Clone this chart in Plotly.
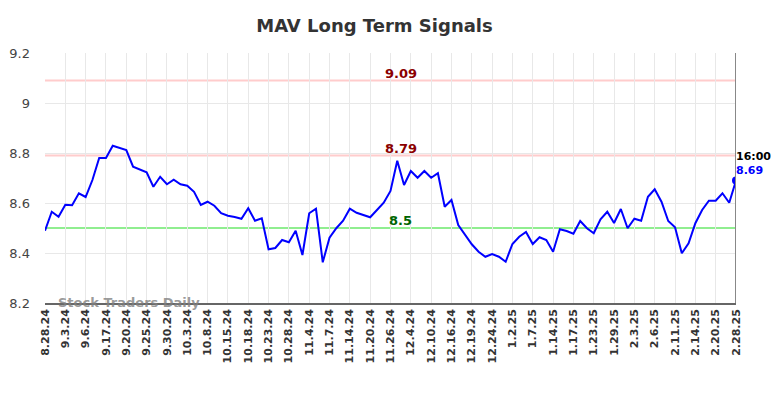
import plotly.graph_objects as go

values = [
    8.489, 8.565, 8.545, 8.593, 8.591, 8.639, 8.624, 8.692, 8.780, 8.780,
    8.829, 8.820, 8.812, 8.745, 8.735, 8.723, 8.665, 8.705, 8.675, 8.693,
    8.675, 8.669, 8.645, 8.592, 8.605, 8.589, 8.559, 8.549, 8.544, 8.537,
    8.579, 8.529, 8.539, 8.415, 8.420, 8.452, 8.443, 8.489, 8.392, 8.559,
    8.577, 8.363, 8.461, 8.499, 8.529, 8.577, 8.561, 8.551, 8.543, 8.572,
    8.601, 8.648, 8.769, 8.672, 8.728, 8.701, 8.728, 8.701, 8.719, 8.585,
    8.612, 8.512, 8.472, 8.435, 8.405, 8.385, 8.396, 8.385, 8.365, 8.436,
    8.465, 8.484, 8.436, 8.463, 8.452, 8.405, 8.495, 8.488, 8.477, 8.528,
    8.499, 8.479, 8.535, 8.565, 8.520, 8.576, 8.499, 8.537, 8.529, 8.625,
    8.655, 8.605, 8.528, 8.503, 8.399, 8.439, 8.519, 8.572, 8.609, 8.609,
    8.639, 8.601, 8.690,
]

tick_labels = [
    "8.28.24", "9.3.24", "9.6.24", "9.17.24", "9.20.24", "9.25.24", "9.30.24",
    "10.3.24", "10.8.24", "10.15.24", "10.18.24", "10.23.24", "10.28.24",
    "11.4.24", "11.7.24", "11.14.24", "11.20.24", "11.26.24", "12.4.24",
    "12.10.24", "12.16.24", "12.19.24", "12.24.24", "1.2.25", "1.7.25",
    "1.14.25", "1.17.25", "1.23.25", "1.29.25", "2.3.25", "2.6.25",
    "2.11.25", "2.14.25", "2.20.25", "2.28.25",
]
tick_step = 3

y_ticks = [8.2, 8.4, 8.6, 8.8, 9.0, 9.2]
y_tick_text = ["8.2", "8.4", "8.6", "8.8", "9", "9.2"]

signal_levels = [9.09, 8.79, 8.5]
signal_labels = ["9.09", "8.79", "8.5"]
signal_line_colors = ["#ffcccc", "#ffcccc", "#90ee90"]
signal_text_colors = ["#8b0000", "#8b0000", "#006400"]

last_time = "16:00"

x = list(range(len(values)))
tick_vals = [i * tick_step for i in range(len(tick_labels))]
tick_text_bold = ["<b>%s</b>" % t for t in tick_labels]
last_i = x[-1]

fig = go.Figure()

fig.add_trace(go.Scatter(
    x=x, y=values, mode="lines",
    line=dict(color="#0000ff", width=2),
    hoverinfo="skip", showlegend=False,
))
fig.add_trace(go.Scatter(
    x=[last_i], y=[values[-1]], mode="markers",
    marker=dict(color="#0000ff", size=8),
    hoverinfo="skip", showlegend=False,
))

for lvl, lab, lc, tc in zip(signal_levels, signal_labels, signal_line_colors, signal_text_colors):
    fig.add_shape(type="line", xref="paper", x0=0, x1=1, yref="y", y0=lvl, y1=lvl,
                  line=dict(color=lc, width=2), layer="below")
    fig.add_annotation(x=0.515, y=lvl, xref="paper", yref="y", text="<b>%s</b>" % lab,
                       showarrow=False, yanchor="bottom", yshift=-2,
                       font=dict(family="DejaVu Sans", size=13, color=tc))

fig.add_shape(type="line", xref="x", x0=last_i, x1=last_i, yref="paper", y0=0, y1=1,
              line=dict(color="#888888", width=2))

fig.add_annotation(x=last_i, y=values[-1], xref="x", yref="y",
                   text="<b>%s</b>" % last_time, showarrow=False,
                   xanchor="left", yanchor="bottom", xshift=-2, yshift=16,
                   font=dict(family="DejaVu Sans", size=11, color="#000000"))
fig.add_annotation(x=last_i, y=values[-1], xref="x", yref="y",
                   text="<b>%.2f</b>" % values[-1], showarrow=False,
                   xanchor="left", yanchor="bottom", xshift=-2, yshift=2,
                   font=dict(family="DejaVu Sans", size=11, color="#0000ff"))

fig.add_annotation(x=0, y=0, xref="paper", yref="paper", text="<b>Stock Traders Daily</b>",
                   showarrow=False, xanchor="left", yanchor="middle", xshift=11, yshift=1,
                   font=dict(family="DejaVu Sans", size=13, color="rgba(128,128,128,0.8)"))

fig.update_layout(
    width=776, height=390,
    margin=dict(l=37, r=48, t=45, b=95, autoexpand=False),
    paper_bgcolor="white", plot_bgcolor="white",
    title=dict(text="<b>MAV Long Term Signals</b>", x=366.5 / 776,
               xanchor="center", y=1 - 18 / 390, yanchor="middle",
               font=dict(family="DejaVu Sans", size=18, color="#333333")),
    xaxis=dict(
        range=[0, last_i], tickvals=tick_vals, ticktext=tick_text_bold,
        tickangle=-90, showgrid=True, gridcolor="#e8e8e8", gridwidth=1,
        zeroline=False, showline=True, linecolor="#666666", linewidth=1.5,
        ticks="", automargin=False,
        tickfont=dict(family="DejaVu Sans", size=11, color="#333333"),
    ),
    yaxis=dict(
        range=[8.2, 9.2], tickvals=y_ticks, ticktext=y_tick_text,
        showgrid=True, gridcolor="#e8e8e8", gridwidth=1, zeroline=False,
        showline=False, ticks="", ticklabelstandoff=14, automargin=False,
        tickfont=dict(family="DejaVu Sans", size=13, color="#444444"),
    ),
)

fig.write_html("out.html")
